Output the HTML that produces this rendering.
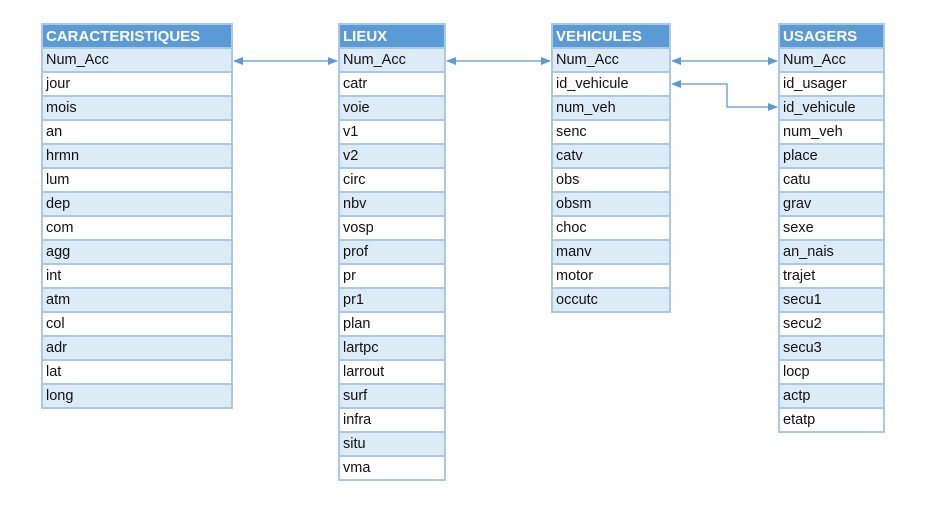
<!DOCTYPE html>
<html><head><meta charset="utf-8"><style>
body{margin:0;width:936px;height:505px;background:#fff;position:relative;overflow:hidden;font-family:"Liberation Sans",Arial,sans-serif}
.t{position:absolute;top:23px;border:2px solid #a9c9e8;box-sizing:border-box}
.t div{height:24px;line-height:23px;box-sizing:border-box;border-bottom:2px solid #a9c9e8;padding-left:3px;font-size:14.5px;color:#111;background:#fff}
.t div:last-child{border-bottom:none;height:22px}
.t div.h{background:#5b9bd5;color:#fff;font-weight:bold;font-size:15px}
.t div.s{background:#ddebf7}
svg{position:absolute;left:0;top:0}
</style></head><body>
<div class="t" style="left:41px;width:192px">
<div class="h">CARACTERISTIQUES</div><div class="s">Num_Acc</div><div>jour</div><div class="s">mois</div><div>an</div><div class="s">hrmn</div><div>lum</div><div class="s">dep</div><div>com</div><div class="s">agg</div><div>int</div><div class="s">atm</div><div>col</div><div class="s">adr</div><div>lat</div><div class="s">long</div>
</div>
<div class="t" style="left:338px;width:108px">
<div class="h">LIEUX</div><div class="s">Num_Acc</div><div>catr</div><div class="s">voie</div><div>v1</div><div class="s">v2</div><div>circ</div><div class="s">nbv</div><div>vosp</div><div class="s">prof</div><div>pr</div><div class="s">pr1</div><div>plan</div><div class="s">lartpc</div><div>larrout</div><div class="s">surf</div><div>infra</div><div class="s">situ</div><div>vma</div>
</div>
<div class="t" style="left:551px;width:120px">
<div class="h">VEHICULES</div><div class="s">Num_Acc</div><div>id_vehicule</div><div class="s">num_veh</div><div>senc</div><div class="s">catv</div><div>obs</div><div class="s">obsm</div><div>choc</div><div class="s">manv</div><div>motor</div><div class="s">occutc</div>
</div>
<div class="t" style="left:778px;width:107px">
<div class="h">USAGERS</div><div class="s">Num_Acc</div><div>id_usager</div><div class="s">id_vehicule</div><div>num_veh</div><div class="s">place</div><div>catu</div><div class="s">grav</div><div>sexe</div><div class="s">an_nais</div><div>trajet</div><div class="s">secu1</div><div>secu2</div><div class="s">secu3</div><div>locp</div><div class="s">actp</div><div>etatp</div>
</div>
<svg width="936" height="505">
<defs><marker id="a" markerWidth="10" markerHeight="8" refX="9" refY="4" orient="auto-start-reverse" markerUnits="userSpaceOnUse"><path d="M0,0 L10,4 L0,8 Z" fill="#5b9bd5"/></marker></defs>
<g stroke="#5b9bd5" stroke-width="1.3" fill="none">
<line x1="234" y1="61" x2="337" y2="61" marker-start="url(#a)" marker-end="url(#a)"/>
<line x1="447" y1="61" x2="550" y2="61" marker-start="url(#a)" marker-end="url(#a)"/>
<line x1="672" y1="61" x2="777" y2="61" marker-start="url(#a)" marker-end="url(#a)"/>
<polyline points="672,84 727,84 727,107 777,107" marker-start="url(#a)" marker-end="url(#a)"/>
</g></svg>
</body></html>
